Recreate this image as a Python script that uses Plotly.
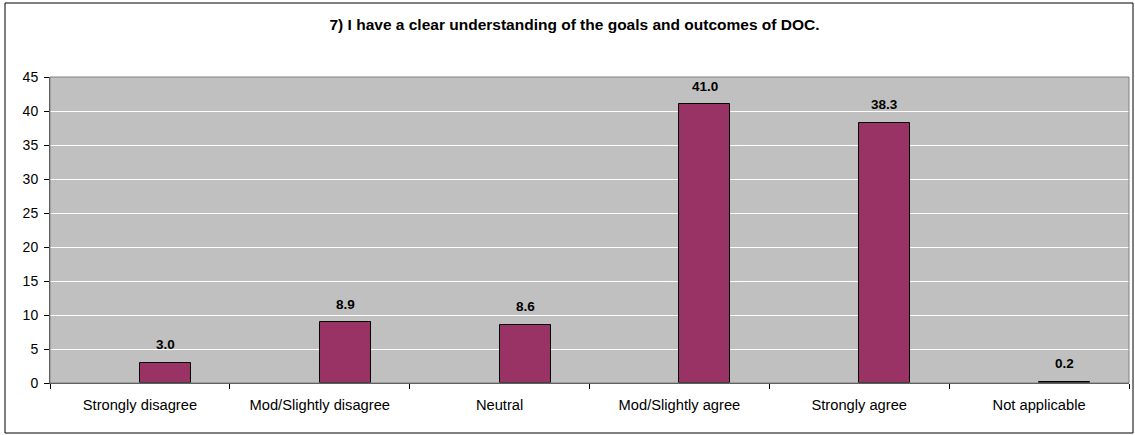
import plotly.graph_objects as go

categories = ["Strongly disagree", "Mod/Slightly disagree", "Neutral",
              "Mod/Slightly agree", "Strongly agree", "Not applicable"]
values = [3.0, 8.9, 8.6, 41.0, 38.3, 0.2]
title_text = "7) I have a clear understanding of the goals and outcomes of DOC."
y_ticks = [0, 5, 10, 15, 20, 25, 30, 35, 40, 45]

W, H = 1135, 435
L, R, T, B = 50, 6, 77, 52
pw = W - L - R
ph = H - T - B
BAR_W = 0.284

fig = go.Figure()
fig.add_trace(go.Bar(
    x=categories, y=values,
    width=BAR_W, offset=0.0,
    marker=dict(color="#993366", line=dict(color="#000000", width=1)),
    hoverinfo="skip",
))

for i, (c, v) in enumerate(zip(categories, values)):
    fig.add_annotation(
        x=i + BAR_W / 2, y=v, xref="x", yref="y",
        text=f"<b>{v:.1f}</b>", showarrow=False,
        yanchor="middle", xanchor="center", yshift=18,
        font=dict(family="Liberation Sans, Arial", size=13.5, color="#000000"),
    )

fig.update_layout(
    width=W, height=H,
    margin=dict(l=L, r=R, t=T, b=B),
    paper_bgcolor="#FFFFFF",
    plot_bgcolor="#C0C0C0",
    showlegend=False,
    font=dict(family="Liberation Sans, Arial", size=13, color="#000000"),
    title=dict(
        text="<b>" + title_text + "</b>",
        x=(574.5 / W), xanchor="center",
        y=1 - 25 / H, yanchor="middle",
        font=dict(family="Liberation Sans, Arial", size=15.5, color="#000000"),
    ),
    xaxis=dict(
        type="category",
        tickson="boundaries",
        ticks="outside", ticklen=5, tickcolor="#000000",
        showline=True, linecolor="#404040", linewidth=1,
        showgrid=False,
        tickfont=dict(size=14.7),
        ticklabelstandoff=8,
        range=[-0.5, 5.5],
        fixedrange=True,
    ),
    yaxis=dict(
        range=[0, 45],
        tickvals=y_ticks,
        ticks="outside", ticklen=5, tickcolor="#000000",
        showline=True, linecolor="#404040", linewidth=1,
        showgrid=True, gridcolor="#FFFFFF", gridwidth=1,
        zeroline=False,
        tickfont=dict(size=14),
        ticklabelstandoff=3,
        fixedrange=True,
    ),
    bargap=0,
)

# gray frame around plot area (top and right)
fig.add_shape(type="rect", xref="paper", yref="paper",
              x0=0, x1=1, y0=0, y1=1,
              line=dict(color="#808080", width=1), fillcolor="rgba(0,0,0,0)",
              layer="above")
# outer chart border
fig.add_shape(type="rect", xref="paper", yref="paper",
              x0=(5 - L) / pw, x1=(1133 - L) / pw,
              y0=-(433 - (T + ph)) / ph, y1=1 + (T - 3) / ph,
              line=dict(color="#000000", width=1), fillcolor="rgba(0,0,0,0)")

fig.write_html("out.html", config={"displayModeBar": False},
               post_script="document.body.style.margin='0';document.body.style.overflow='hidden';")
